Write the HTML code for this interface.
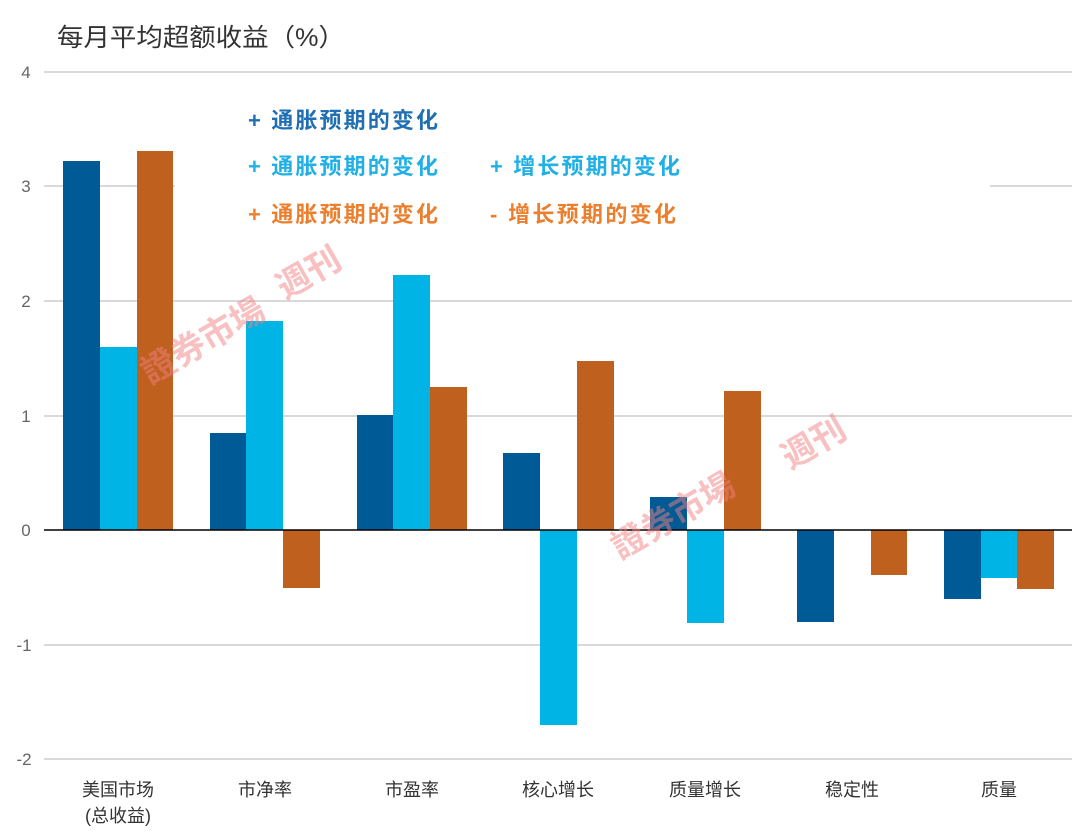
<!DOCTYPE html>
<html><head><meta charset="utf-8"><style>
body{margin:0;background:#fff;}
svg{display:block;font-family:"Liberation Sans","Noto Sans CJK SC",sans-serif;}
</style></head><body>
<svg width="1080" height="838" viewBox="0 0 1080 838" xmlns="http://www.w3.org/2000/svg">
<rect width="1080" height="838" fill="#fff"/>
<text x="57" y="46" font-size="25" fill="#333" textLength="288" lengthAdjust="spacingAndGlyphs">每月平均超额收益（%）</text>
<g stroke="#d9d9d9" stroke-width="2">
<line x1="44" y1="72" x2="1072" y2="72"/>
<line x1="44" y1="186" x2="1072" y2="186"/>
<line x1="44" y1="301" x2="1072" y2="301"/>
<line x1="44" y1="416" x2="1072" y2="416"/>
<line x1="44" y1="645" x2="1072" y2="645"/>
<line x1="44" y1="759" x2="1072" y2="759"/>
</g>
<rect x="175" y="95" width="815" height="140" fill="#fff"/>
<g font-size="17" fill="#666" text-anchor="middle">
<text x="26" y="78">4</text><text x="26" y="192">3</text><text x="26" y="307">2</text>
<text x="26" y="422">1</text><text x="26" y="536">0</text><text x="24" y="651">-1</text><text x="24" y="765">-2</text>
</g>
<g fill="#005a96">
<rect x="63" y="161" width="37" height="369"/>
<rect x="210" y="433" width="36" height="97"/>
<rect x="357" y="415" width="36" height="115"/>
<rect x="503" y="453" width="37" height="77"/>
<rect x="650" y="497" width="37" height="33"/>
<rect x="797" y="530" width="37" height="92"/>
<rect x="944" y="530" width="37" height="69"/>
</g>
<g fill="#00b4e6">
<rect x="100" y="347" width="37" height="183"/>
<rect x="246" y="321" width="37" height="209"/>
<rect x="393" y="275" width="37" height="255"/>
<rect x="540" y="530" width="37" height="195"/>
<rect x="687" y="530" width="37" height="93"/>
<rect x="981" y="530" width="36" height="48"/>
</g>
<g fill="#c0601f">
<rect x="137" y="151" width="36" height="379"/>
<rect x="283" y="530" width="37" height="58"/>
<rect x="430" y="387" width="37" height="143"/>
<rect x="577" y="361" width="37" height="169"/>
<rect x="724" y="391" width="37" height="139"/>
<rect x="871" y="530" width="36" height="45"/>
<rect x="1017" y="530" width="37" height="59"/>
</g>
<line x1="44" y1="530" x2="1072" y2="530" stroke="#000" stroke-width="1.5"/>
<g font-size="22" font-weight="bold" lengthAdjust="spacingAndGlyphs">
<text x="248" y="128" fill="#1f6fb2" textLength="190">+ 通胀预期的变化</text>
<text x="248" y="174" fill="#20b0e6" textLength="190">+ 通胀预期的变化</text>
<text x="490" y="174" fill="#20b0e6" textLength="190">+ 增长预期的变化</text>
<text x="248" y="222" fill="#ec7f2e" textLength="190">+ 通胀预期的变化</text>
<text x="490" y="222" fill="#ec7f2e" textLength="186">- 增长预期的变化</text>
</g>
<g font-size="18" fill="#333" text-anchor="middle">
<text x="118" y="796">美国市场</text><text x="118" y="822">(总收益)</text>
<text x="265" y="796">市净率</text>
<text x="412" y="796">市盈率</text>
<text x="558" y="796">核心增长</text>
<text x="705" y="796">质量增长</text>
<text x="852" y="796">稳定性</text>
<text x="999" y="796">质量</text>
</g>
<g fill="#f08080" opacity="0.5" font-weight="bold">
<text x="150" y="385" font-size="34" transform="rotate(-30 150 385)">證券市場</text>
<text x="285" y="300" font-size="34" transform="rotate(-30 285 300)">週刊</text>
<text x="620" y="560" font-size="34" transform="rotate(-30 620 560)">證券市場</text>
<text x="790" y="470" font-size="34" transform="rotate(-30 790 470)">週刊</text>
</g>
</svg>
</body></html>
